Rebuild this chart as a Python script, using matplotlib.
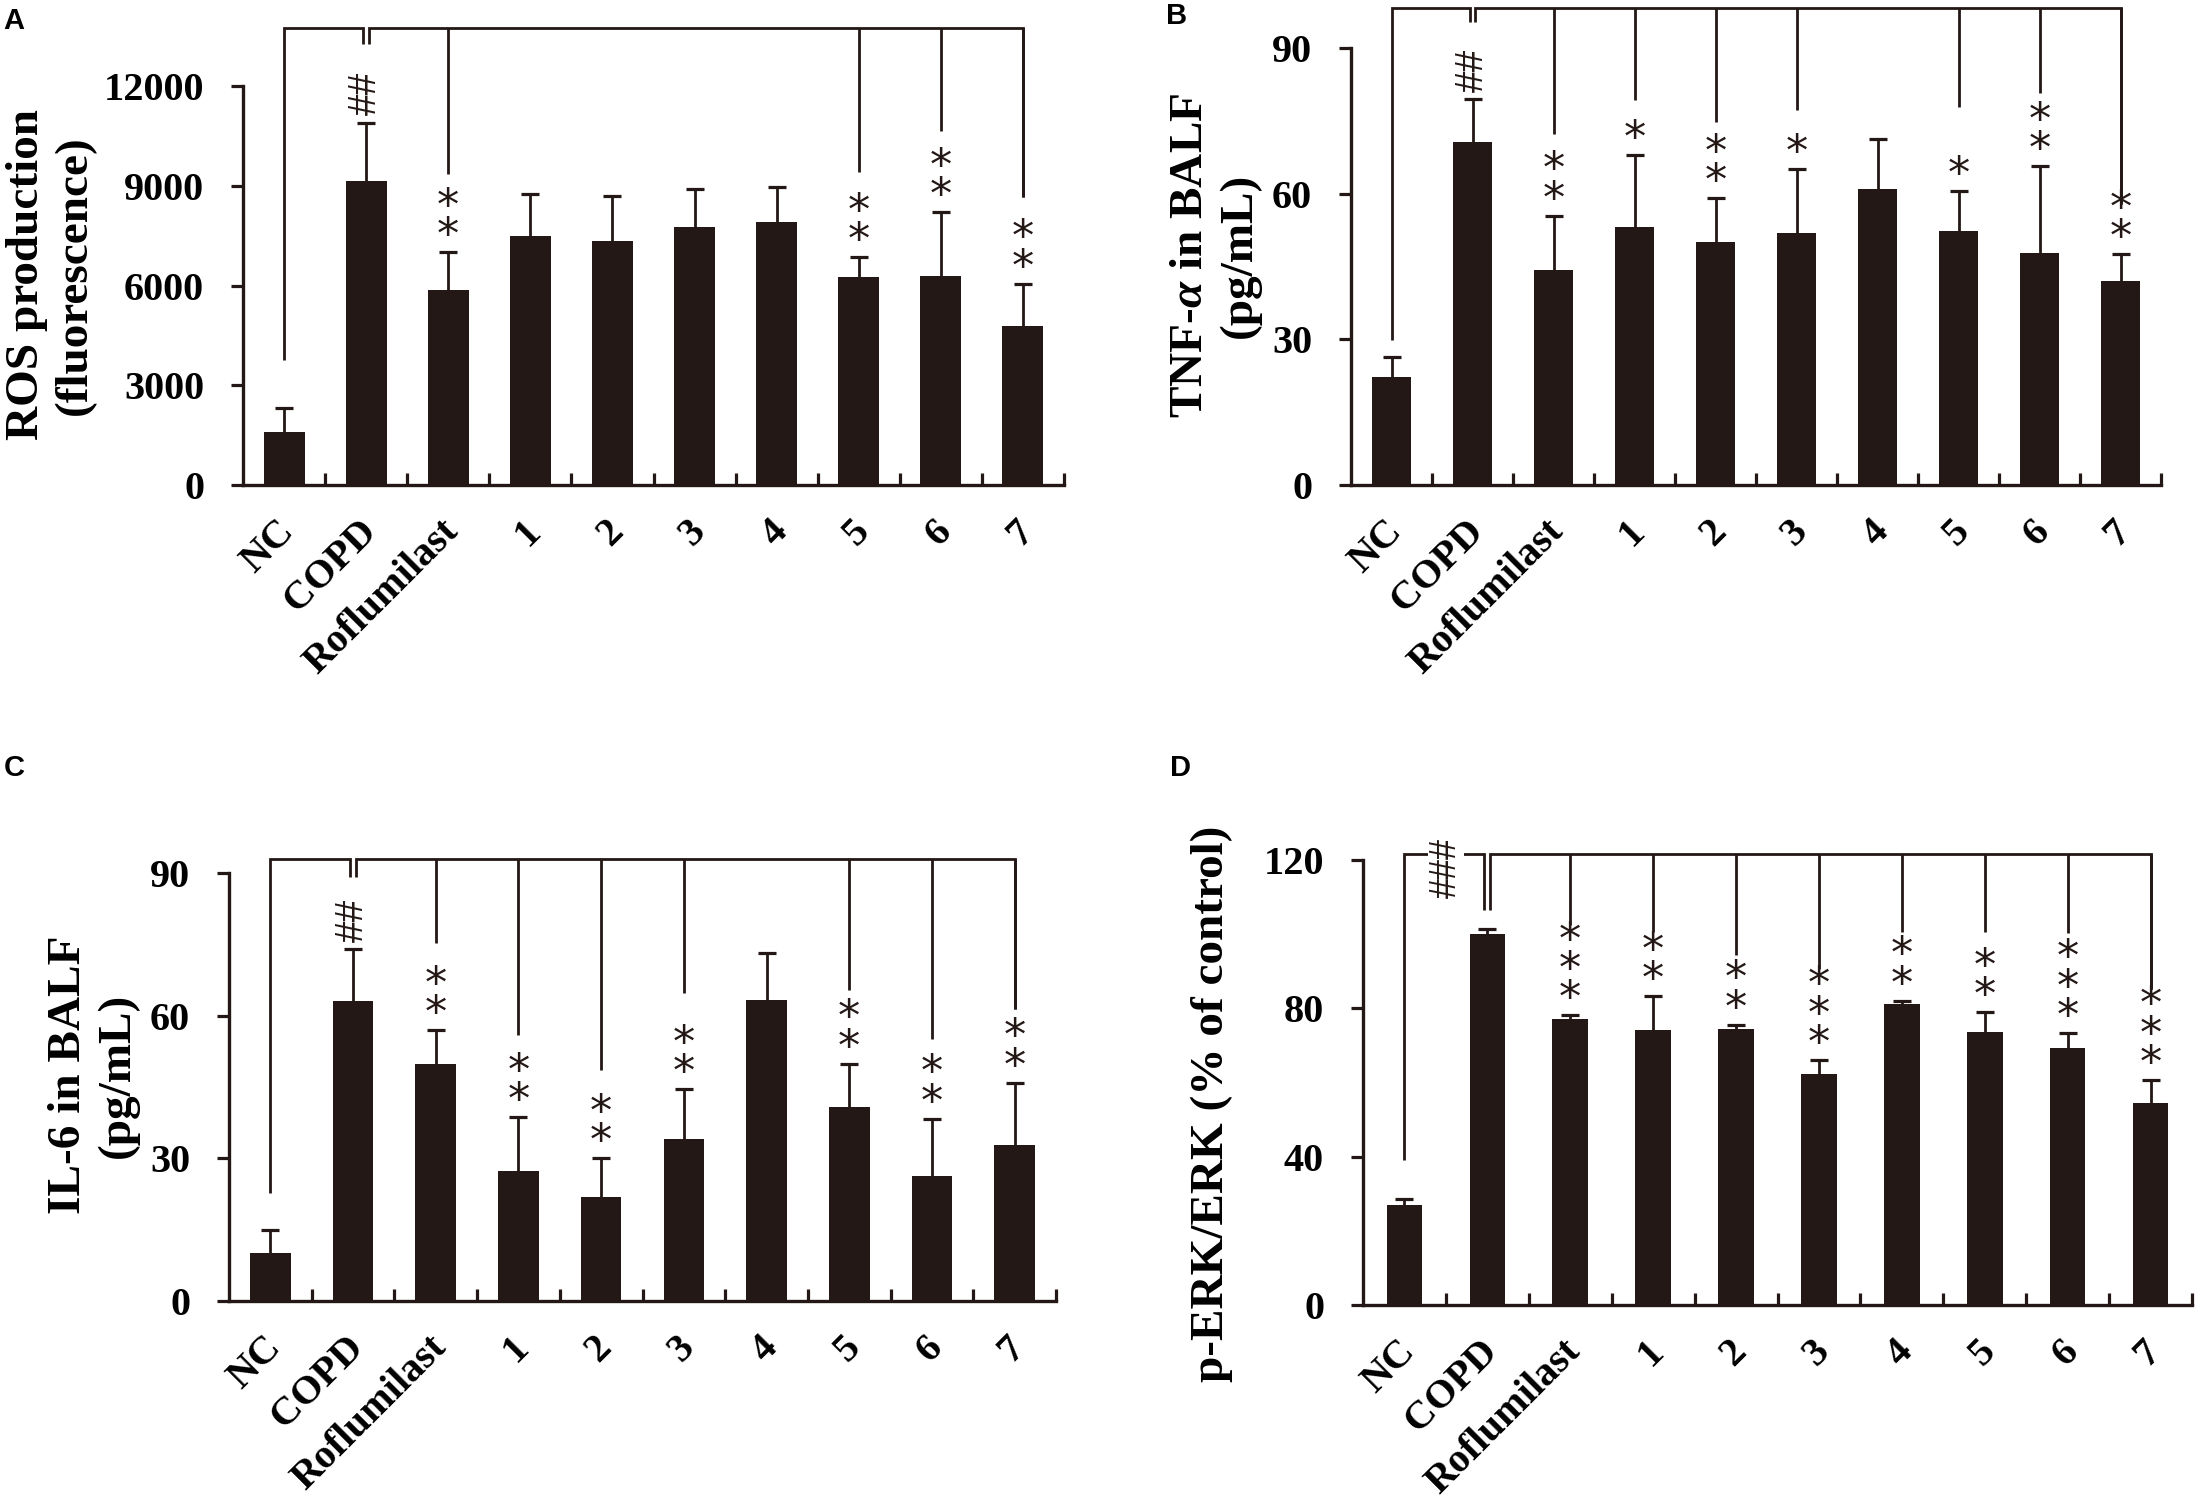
import matplotlib
matplotlib.use('Agg')
import matplotlib.pyplot as plt
import matplotlib.transforms as mtransforms
import numpy as np

plt.rcParams['mathtext.fontset'] = 'custom'
plt.rcParams['mathtext.it'] = 'Liberation Serif:italic:bold'
plt.rcParams['mathtext.rm'] = 'Liberation Serif:bold'

# ---------------- data ----------------
categories = ['NC', 'COPD', 'Roflumilast', '1', '2', '3', '4', '5', '6', '7']

ros_mean = [1600, 9150, 5850, 7480, 7330, 7750, 7900, 6250, 6300, 4780]
ros_err_top = [2330, 10900, 7000, 8750, 8680, 8900, 8950, 6850, 8200, 6050]
ros_stars = ['', '', '**', '', '', '', '', '**', '**', '**']
ros_hash = '##'
ros_yticks = [0, 3000, 6000, 9000, 12000]
ros_bracket_top = 13750
ros_bracket_ends = [3750, 13250, 9350, None, None, None, None, 9410, 10650, 8650]

tnf_mean = [22.3, 70.7, 44.2, 53.1, 50.0, 51.8, 60.9, 52.3, 47.8, 42.1]
tnf_err_top = [26.4, 79.5, 55.5, 67.9, 59.1, 65.1, 71.3, 60.6, 65.7, 47.5]
tnf_stars = ['', '', '**', '*', '**', '*', '', '*', '**', '**']
tnf_hash = '##'
tnf_yticks = [0, 30, 60, 90]
tnf_bracket_top = 98.3
tnf_bracket_ends = [29.8, 95.4, 72.3, 79.2, 74.8, 77.3, None, 77.8, 80.8, 57.9]

il6_mean = [10.1, 63.1, 49.8, 27.4, 21.9, 34.0, 63.3, 40.7, 26.3, 32.9]
il6_err_top = [15.0, 74.0, 56.9, 38.6, 30.0, 44.5, 73.1, 49.9, 38.3, 45.9]
il6_stars = ['', '', '**', '**', '**', '**', '', '**', '**', '**']
il6_hash = '##'
il6_yticks = [0, 30, 60, 90]
il6_bracket_top = 93.0
il6_bracket_ends = [22.7, 89.2, 75.3, 55.9, 48.5, 64.7, None, 65.3, 55.1, 61.5]

erk_mean = [27.1, 100.0, 77.2, 74.2, 74.5, 62.2, 81.1, 73.5, 69.4, 54.5]
erk_err_top = [28.6, 101.5, 78.1, 83.3, 75.6, 66.0, 82.1, 78.9, 73.3, 60.7]
erk_stars = ['', '', '***', '**', '**', '***', '**', '**', '***', '***']
erk_hash = '###'
erk_yticks = [0, 40, 80, 120]
erk_bracket_top = 121.6
erk_bracket_ends = [39.0, 106.5, 102.6, 100.5, 94.4, 90.5, 100.5, 100.6, 100.2, 85.3]

# ---------------- style ----------------
INK = '#231815'
W, H = 2198, 1507
SERIF = 'Liberation Serif'

fig = plt.figure(figsize=(W / 100, H / 100), dpi=100)
fig.patch.set_facecolor('white')


def px_rect(left, right, bottom, top):
    return [left / W, (H - bottom) / H, (right - left) / W, (bottom - top) / H]


def panel(rect, mean, err_top, stars, hash_txt, yticks, btop, bends,
          ylabel, ylabel_xy, letter, letter_xy, bar_w, hash_mode='above'):
    ax = fig.add_axes(rect)
    x = np.arange(len(categories))
    mean = np.asarray(mean, float)
    err_top = np.asarray(err_top, float)
    ax.bar(x, mean, width=bar_w, color=INK, zorder=2)
    eb = ax.errorbar(x, mean, yerr=[np.zeros_like(mean), err_top - mean], fmt='none',
                     ecolor=INK, elinewidth=2.0, capsize=6.5, capthick=2.3, zorder=1)
    eb[1][0].set_visible(False)

    ax.set_xlim(-0.5, len(categories) - 0.5)
    ax.set_ylim(yticks[0], yticks[-1])
    for s in ['top', 'right']:
        ax.spines[s].set_visible(False)
    for s in ['left', 'bottom']:
        ax.spines[s].set_linewidth(2.4)
        ax.spines[s].set_color(INK)

    ax.set_yticks(yticks)
    ax.set_yticklabels([str(t) for t in yticks])
    ax.tick_params(axis='y', direction='out', length=9, width=2.3, color=INK,
                   pad=19, labelsize=29)
    ax.set_xticks(x)
    ax.set_xticklabels(categories)
    ax.set_xticks(np.arange(0.5, len(categories), 1.0), minor=True)
    ax.tick_params(axis='x', which='major', length=0, pad=20, labelsize=29)
    ax.tick_params(axis='x', which='minor', direction='in', length=8.5, width=2.3, color=INK)
    off = mtransforms.ScaledTranslation(-8 / 100, 0, fig.dpi_scale_trans)
    for lab in ax.get_xticklabels():
        lab.set_rotation(45)
        lab.set_ha('right')
        lab.set_va('top')
        lab.set_rotation_mode('anchor')
        lab.set_fontfamily(SERIF)
        lab.set_fontweight('bold')
        lab.set_transform(lab.get_transform() + off)
    for lab in ax.get_yticklabels():
        lab.set_fontfamily(SERIF)
        lab.set_fontweight('bold')

    ax.set_ylabel(ylabel, fontsize=34, fontfamily=SERIF, fontweight='bold',
                  multialignment='center')
    ax.yaxis.set_label_coords(ylabel_xy[0] / W, 1 - ylabel_xy[1] / H, transform=fig.transFigure)
    ax.yaxis.label.set_va('center')
    ax.yaxis.label.set_ha('center')

    # brackets
    lk = dict(color=INK, lw=2.0, clip_on=False, solid_joinstyle='miter',
              solid_capstyle='butt', zorder=3)
    g = 0.035
    ax.plot([0, 0, 1 - g, 1 - g], [bends[0], btop, btop, bends[1]], **lk)
    idx = [i for i in range(2, len(categories)) if bends[i] is not None]
    last = max(idx)
    ax.plot([1 + g, 1 + g, last, last], [bends[1], btop, btop, bends[last]], **lk)
    for i in idx:
        ax.plot([i, i], [btop, bends[i]], **lk)

    # stars (stacked vertically, one per line)
    for i, s in enumerate(stars):
        if not s:
            continue
        ax.annotate('\n'.join(s), xy=(i, err_top[i]), xytext=(0, -6),
                    textcoords='offset pixels', ha='center', va='bottom',
                    fontsize=32, fontfamily='DejaVu Sans',
                    color=INK, linespacing=0.6, multialignment='center',
                    annotation_clip=False, zorder=4)
    # hashes
    if hash_mode == 'above':
        ax.annotate(hash_txt, xy=(1, err_top[1]), xytext=(0, 29),
                    textcoords='offset pixels', ha='center', va='center',
                    rotation=90, fontsize=28, fontfamily='Liberation Sans',
                    color=INK, annotation_clip=False, zorder=4)
    else:
        ax.text(0.5, btop - 3.8, hash_txt, ha='center', va='center', rotation=90,
                fontsize=26, fontfamily='Liberation Sans', color=INK, zorder=5,
                clip_on=False,
                bbox=dict(facecolor='white', edgecolor='none', pad=0.5))

    fig.text(letter_xy[0] / W, 1 - letter_xy[1] / H, letter, fontsize=21,
             fontfamily='Liberation Sans', fontweight='bold', ha='left', va='top',
             color='black')
    return ax


panel(px_rect(243, 1064, 485, 86), ros_mean, ros_err_top, ros_stars, ros_hash,
      ros_yticks, ros_bracket_top, ros_bracket_ends,
      'ROS production\n(fluorescence)', (51, 275), 'A', (3, 7), 0.5)
panel(px_rect(1351, 2161, 485, 48), tnf_mean, tnf_err_top, tnf_stars, tnf_hash,
      tnf_yticks, tnf_bracket_top, tnf_bracket_ends,
      'TNF-$\\mathit{\\alpha}$ in BALF\n(pg/mL)', (1215, 255), 'B', (1166, 2), 0.49)
panel(px_rect(229, 1056, 1301, 873), il6_mean, il6_err_top, il6_stars, il6_hash,
      il6_yticks, il6_bracket_top, il6_bracket_ends,
      'IL-6 in BALF\n(pg/mL)', (93, 1075), 'C', (4, 754), 0.49)
panel(px_rect(1363, 2192, 1305, 860), erk_mean, erk_err_top, erk_stars, erk_hash,
      erk_yticks, erk_bracket_top, erk_bracket_ends,
      'p-ERK/ERK (% of control)', (1212, 1104), 'D', (1170, 754), 0.43,
      hash_mode='inline')

fig.savefig('out.png', dpi=100, facecolor='white')
